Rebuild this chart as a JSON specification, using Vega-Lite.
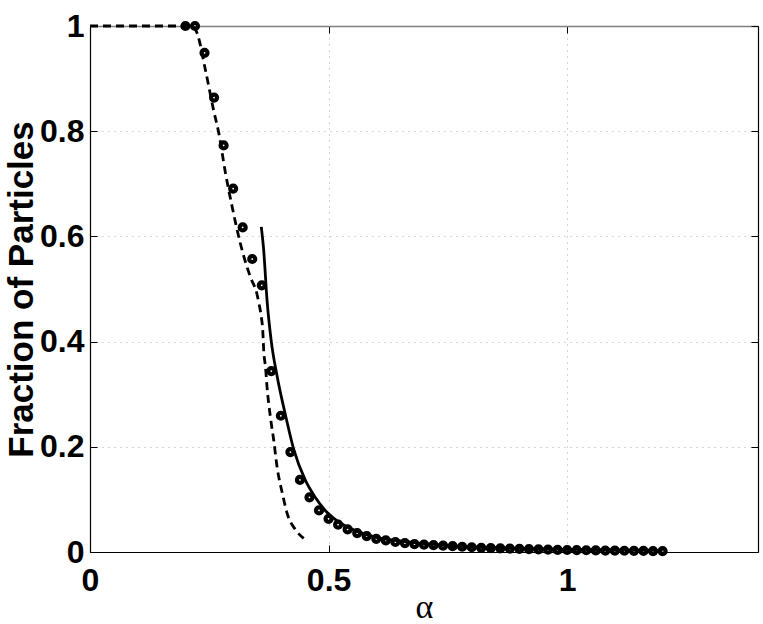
{
  "$schema": "https://vega.github.io/schema/vega-lite/v6.json",
  "width": 668,
  "height": 526,
  "autosize": "none",
  "padding": {"left": 90, "top": 26, "right": 5, "bottom": 72},
  "background": "white",
  "config": {"view": {"stroke": null}, "font": "Liberation Sans"},
  "datasets": {
    "dashed": [
      {"alpha": 0, "frac": 1},
      {"alpha": 0.2, "frac": 1},
      {"alpha": 0.215, "frac": 1},
      {"alpha": 0.225, "frac": 0.985},
      {"alpha": 0.242, "frac": 0.916},
      {"alpha": 0.259, "frac": 0.84},
      {"alpha": 0.27, "frac": 0.796},
      {"alpha": 0.284, "frac": 0.72},
      {"alpha": 0.298, "frac": 0.656},
      {"alpha": 0.315, "frac": 0.587},
      {"alpha": 0.336, "frac": 0.523},
      {"alpha": 0.35, "frac": 0.49},
      {"alpha": 0.354, "frac": 0.473},
      {"alpha": 0.359, "frac": 0.447},
      {"alpha": 0.362, "frac": 0.422},
      {"alpha": 0.364, "frac": 0.384},
      {"alpha": 0.368, "frac": 0.35},
      {"alpha": 0.371, "frac": 0.314},
      {"alpha": 0.378, "frac": 0.257},
      {"alpha": 0.385, "frac": 0.213},
      {"alpha": 0.392, "frac": 0.162},
      {"alpha": 0.403, "frac": 0.112},
      {"alpha": 0.413, "frac": 0.074},
      {"alpha": 0.431, "frac": 0.042},
      {"alpha": 0.448, "frac": 0.026}
    ],
    "solid": [
      {"alpha": 0.359, "frac": 0.618},
      {"alpha": 0.364, "frac": 0.574},
      {"alpha": 0.371, "frac": 0.479},
      {"alpha": 0.38, "frac": 0.4},
      {"alpha": 0.392, "frac": 0.335},
      {"alpha": 0.41, "frac": 0.259},
      {"alpha": 0.427, "frac": 0.195},
      {"alpha": 0.451, "frac": 0.137},
      {"alpha": 0.472, "frac": 0.104},
      {"alpha": 0.493, "frac": 0.079},
      {"alpha": 0.52, "frac": 0.058},
      {"alpha": 0.55, "frac": 0.043},
      {"alpha": 0.6, "frac": 0.028},
      {"alpha": 0.65, "frac": 0.021},
      {"alpha": 0.7, "frac": 0.016},
      {"alpha": 0.8, "frac": 0.01},
      {"alpha": 0.9, "frac": 0.007},
      {"alpha": 1.0, "frac": 0.005},
      {"alpha": 1.1, "frac": 0.004},
      {"alpha": 1.2, "frac": 0.003}
    ],
    "sim": [
      {"alpha": 0.2, "frac": 1.0},
      {"alpha": 0.22, "frac": 1.0},
      {"alpha": 0.24, "frac": 0.949},
      {"alpha": 0.26, "frac": 0.864},
      {"alpha": 0.28, "frac": 0.773},
      {"alpha": 0.3, "frac": 0.691},
      {"alpha": 0.32, "frac": 0.617},
      {"alpha": 0.34, "frac": 0.557},
      {"alpha": 0.36, "frac": 0.507},
      {"alpha": 0.38, "frac": 0.344},
      {"alpha": 0.4, "frac": 0.259},
      {"alpha": 0.42, "frac": 0.19},
      {"alpha": 0.44, "frac": 0.137},
      {"alpha": 0.46, "frac": 0.104},
      {"alpha": 0.48, "frac": 0.079},
      {"alpha": 0.5, "frac": 0.063},
      {"alpha": 0.52, "frac": 0.052},
      {"alpha": 0.54, "frac": 0.043},
      {"alpha": 0.56, "frac": 0.036},
      {"alpha": 0.58, "frac": 0.03},
      {"alpha": 0.6, "frac": 0.025},
      {"alpha": 0.62, "frac": 0.022},
      {"alpha": 0.64, "frac": 0.019},
      {"alpha": 0.66, "frac": 0.017},
      {"alpha": 0.68, "frac": 0.015},
      {"alpha": 0.7, "frac": 0.014},
      {"alpha": 0.72, "frac": 0.013},
      {"alpha": 0.74, "frac": 0.012},
      {"alpha": 0.76, "frac": 0.011},
      {"alpha": 0.78, "frac": 0.01},
      {"alpha": 0.8, "frac": 0.009},
      {"alpha": 0.82, "frac": 0.008},
      {"alpha": 0.84, "frac": 0.0075},
      {"alpha": 0.86, "frac": 0.007},
      {"alpha": 0.88, "frac": 0.0065},
      {"alpha": 0.9, "frac": 0.006},
      {"alpha": 0.92, "frac": 0.0055},
      {"alpha": 0.94, "frac": 0.005},
      {"alpha": 0.96, "frac": 0.0045},
      {"alpha": 0.98, "frac": 0.004},
      {"alpha": 1.0, "frac": 0.0038},
      {"alpha": 1.02, "frac": 0.0035},
      {"alpha": 1.04, "frac": 0.0033},
      {"alpha": 1.06, "frac": 0.003},
      {"alpha": 1.08, "frac": 0.0028},
      {"alpha": 1.1, "frac": 0.0026},
      {"alpha": 1.12, "frac": 0.0024},
      {"alpha": 1.14, "frac": 0.0022},
      {"alpha": 1.16, "frac": 0.002},
      {"alpha": 1.18, "frac": 0.0018},
      {"alpha": 1.2, "frac": 0.0017}
    ]
  },
  "resolve": {"axis": {"x": "independent", "y": "independent"}},
  "layer": [
    {
      "data": {"name": "dashed"},
      "mark": {"type": "line", "color": "black", "strokeWidth": 2.8, "strokeDash": [8, 5], "interpolate": "monotone"},
      "encoding": {
        "x": {
          "field": "alpha", "type": "quantitative",
          "scale": {"domain": [0, 1.4], "nice": false, "zero": false},
          "axis": {
            "orient": "bottom", "values": [0, 0.5, 1], "labelExpr": "'' + datum.value",
            "title": "α", "titleFont": "Liberation Serif", "titleFontSize": 34, "titleFontWeight": "normal", "titleColor": "black", "titleBaseline": "alphabetic", "titleY": 65,
            "labelFont": "Liberation Sans", "labelFontSize": 32, "labelFontWeight": "bold", "labelColor": "black", "labelPadding": 20, "labelFlush": false, "labelOverlap": false,
            "tickSize": -7, "tickColor": "black", "tickWidth": 1,
            "domainColor": "black", "domainWidth": 1.2,
            "grid": true, "gridDash": [1, 5], "gridColor": "#aaaaaa", "gridWidth": 1
          }
        },
        "y": {
          "field": "frac", "type": "quantitative",
          "scale": {"domain": [0, 1], "nice": false},
          "axis": {
            "orient": "left", "values": [0, 0.2, 0.4, 0.6, 0.8, 1], "labelExpr": "'' + datum.value",
            "title": "Fraction of Particles", "titleFont": "Liberation Sans", "titleFontSize": 35, "titleFontWeight": "bold", "titleColor": "black", "titlePadding": 0,
            "labelFont": "Liberation Sans", "labelFontSize": 32, "labelFontWeight": "bold", "labelColor": "black", "labelPadding": 13, "labelFlush": false, "labelOverlap": false,
            "tickSize": -7, "tickColor": "black", "tickWidth": 1,
            "domainColor": "black", "domainWidth": 1.2,
            "grid": true, "gridDash": [1, 5], "gridColor": "#aaaaaa", "gridWidth": 1
          }
        }
      }
    },
    {
      "data": {"name": "solid"},
      "mark": {"type": "line", "color": "black", "strokeWidth": 2.8, "interpolate": "monotone"},
      "encoding": {
        "x": {
          "field": "alpha", "type": "quantitative",
          "axis": {
            "orient": "top", "values": [0, 0.5, 1], "labels": false, "title": null, "grid": false,
            "tickSize": -7, "tickColor": "black", "tickWidth": 1,
            "domainColor": "#808080", "domainWidth": 1.6
          }
        },
        "y": {
          "field": "frac", "type": "quantitative",
          "axis": {
            "orient": "right", "values": [0, 0.2, 0.4, 0.6, 0.8, 1], "labels": false, "title": null, "grid": false,
            "tickSize": -7, "tickColor": "black", "tickWidth": 1,
            "domainColor": "black", "domainWidth": 1.2
          }
        }
      }
    },
    {
      "data": {"name": "sim"},
      "mark": {"type": "point", "filled": false, "stroke": "black", "strokeWidth": 4.2, "size": 36, "opacity": 1},
      "encoding": {
        "x": {"field": "alpha", "type": "quantitative", "axis": null},
        "y": {"field": "frac", "type": "quantitative", "axis": null}
      }
    }
  ]
}
